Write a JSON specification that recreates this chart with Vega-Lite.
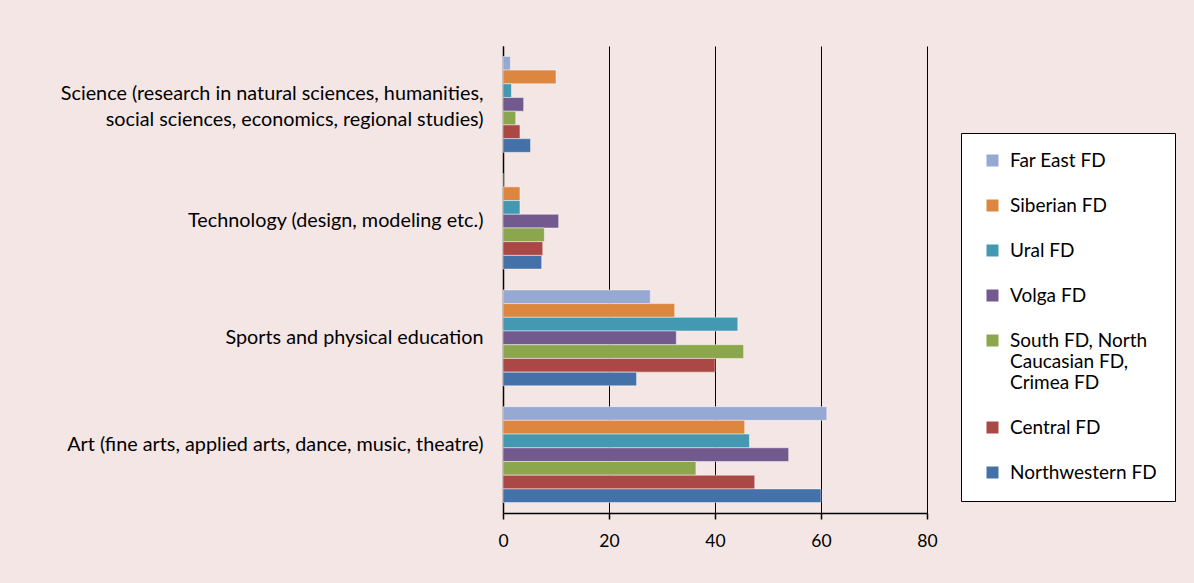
{
  "$schema": "https://vega.github.io/schema/vega-lite/v6.json",
  "width": 424,
  "height": 467,
  "autosize": {"type": "none"},
  "padding": {"left": 503, "top": 46, "right": 267, "bottom": 70},
  "background": "#F5E6E6",
  "config": {"view": {"stroke": null}, "font": "Lato"},
  "data": {
    "values": [
      {"category": "Science (research in natural sciences, humanities, social sciences, economics, regional studies)", "region": "Far East FD", "value": 1.4},
      {"category": "Science (research in natural sciences, humanities, social sciences, economics, regional studies)", "region": "Siberian FD", "value": 10.0},
      {"category": "Science (research in natural sciences, humanities, social sciences, economics, regional studies)", "region": "Ural FD", "value": 1.6},
      {"category": "Science (research in natural sciences, humanities, social sciences, economics, regional studies)", "region": "Volga FD", "value": 3.9},
      {"category": "Science (research in natural sciences, humanities, social sciences, economics, regional studies)", "region": "South FD, North Caucasian FD, Crimea FD", "value": 2.4},
      {"category": "Science (research in natural sciences, humanities, social sciences, economics, regional studies)", "region": "Central FD", "value": 3.2},
      {"category": "Science (research in natural sciences, humanities, social sciences, economics, regional studies)", "region": "Northwestern FD", "value": 5.2},
      {"category": "Technology (design, modeling etc.)", "region": "Far East FD", "value": 0},
      {"category": "Technology (design, modeling etc.)", "region": "Siberian FD", "value": 3.2},
      {"category": "Technology (design, modeling etc.)", "region": "Ural FD", "value": 3.2},
      {"category": "Technology (design, modeling etc.)", "region": "Volga FD", "value": 10.5},
      {"category": "Technology (design, modeling etc.)", "region": "South FD, North Caucasian FD, Crimea FD", "value": 7.8},
      {"category": "Technology (design, modeling etc.)", "region": "Central FD", "value": 7.5},
      {"category": "Technology (design, modeling etc.)", "region": "Northwestern FD", "value": 7.3},
      {"category": "Sports and physical education", "region": "Far East FD", "value": 27.8},
      {"category": "Sports and physical education", "region": "Siberian FD", "value": 32.4},
      {"category": "Sports and physical education", "region": "Ural FD", "value": 44.3},
      {"category": "Sports and physical education", "region": "Volga FD", "value": 32.7},
      {"category": "Sports and physical education", "region": "South FD, North Caucasian FD, Crimea FD", "value": 45.4},
      {"category": "Sports and physical education", "region": "Central FD", "value": 40.0},
      {"category": "Sports and physical education", "region": "Northwestern FD", "value": 25.2},
      {"category": "Art (fine arts, applied arts, dance, music, theatre)", "region": "Far East FD", "value": 61.1},
      {"category": "Art (fine arts, applied arts, dance, music, theatre)", "region": "Siberian FD", "value": 45.6},
      {"category": "Art (fine arts, applied arts, dance, music, theatre)", "region": "Ural FD", "value": 46.5},
      {"category": "Art (fine arts, applied arts, dance, music, theatre)", "region": "Volga FD", "value": 53.9},
      {"category": "Art (fine arts, applied arts, dance, music, theatre)", "region": "South FD, North Caucasian FD, Crimea FD", "value": 36.4},
      {"category": "Art (fine arts, applied arts, dance, music, theatre)", "region": "Central FD", "value": 47.5},
      {"category": "Art (fine arts, applied arts, dance, music, theatre)", "region": "Northwestern FD", "value": 60.0}
    ]
  },
  "mark": {"type": "bar", "stroke": "white", "strokeOpacity": 0.45, "strokeWidth": 1},
  "encoding": {
    "y": {
      "field": "category",
      "type": "nominal",
      "sort": [
        "Science (research in natural sciences, humanities, social sciences, economics, regional studies)",
        "Technology (design, modeling etc.)",
        "Sports and physical education",
        "Art (fine arts, applied arts, dance, music, theatre)"
      ],
      "scale": {"paddingInner": 0, "paddingOuter": 0},
      "axis": {
        "title": null,
        "grid": false,
        "ticks": false,
        "domainColor": "black",
        "domainWidth": 1.5,
        "labelPadding": 20,
        "labelFontSize": 19.8,
        "labelColor": "black",
        "labelLimit": 600,
        "labelLineHeight": 26,
        "labelExpr": "isString(datum.value) && indexof(datum.value, 'Science') == 0 ? ['Science (research in natural sciences, humanities,', 'social sciences, economics, regional studies)'] : datum.value",
        "labelBaseline": {
          "condition": {"test": "isString(datum.value) && (indexof(datum.value, 'Art') == 0 || indexof(datum.value, 'Science') == 0)", "value": "bottom"},
          "value": "middle"
        }
      }
    },
    "yOffset": {
      "field": "region",
      "type": "nominal",
      "sort": ["Far East FD", "Siberian FD", "Ural FD", "Volga FD", "South FD, North Caucasian FD, Crimea FD", "Central FD", "Northwestern FD"],
      "scale": {"paddingInner": 0, "paddingOuter": 0.76}
    },
    "x": {
      "field": "value",
      "type": "quantitative",
      "scale": {"domain": [0, 80], "nice": false},
      "axis": {
        "title": null,
        "values": [0, 20, 40, 60, 80],
        "grid": true,
        "gridColor": "black",
        "gridOpacity": 1,
        "domainColor": "black",
        "domainWidth": 1.5,
        "tickColor": "black",
        "tickWidth": 1.5,
        "tickSize": 6,
        "labelFontSize": 17.5,
        "labelColor": "black",
        "labelPadding": 13,
        "labelFlush": false
      }
    },
    "color": {
      "field": "region",
      "type": "nominal",
      "scale": {
        "domain": ["Far East FD", "Siberian FD", "Ural FD", "Volga FD", "South FD, North Caucasian FD, Crimea FD", "Central FD", "Northwestern FD"],
        "range": ["#95A9D3", "#DD8640", "#4399B1", "#735A8E", "#8BA64D", "#AB4745", "#4472A8"]
      },
      "legend": {
        "title": null,
        "orient": "none",
        "legendX": 458,
        "legendY": 87,
        "fillColor": "white",
        "strokeColor": "black",
        "padding": 18,
        "symbolType": "square",
        "symbolSize": 144,
        "symbolStrokeWidth": 0,
        "symbolOffset": 4,
        "labelFontSize": 19,
        "labelColor": "black",
        "labelOffset": 8,
        "rowPadding": 25,
        "labelLimit": 300,
        "labelExpr": "datum.value == 'South FD, North Caucasian FD, Crimea FD' ? ['South FD, North', 'Caucasian FD,', 'Crimea FD'] : datum.value"
      }
    }
  }
}
